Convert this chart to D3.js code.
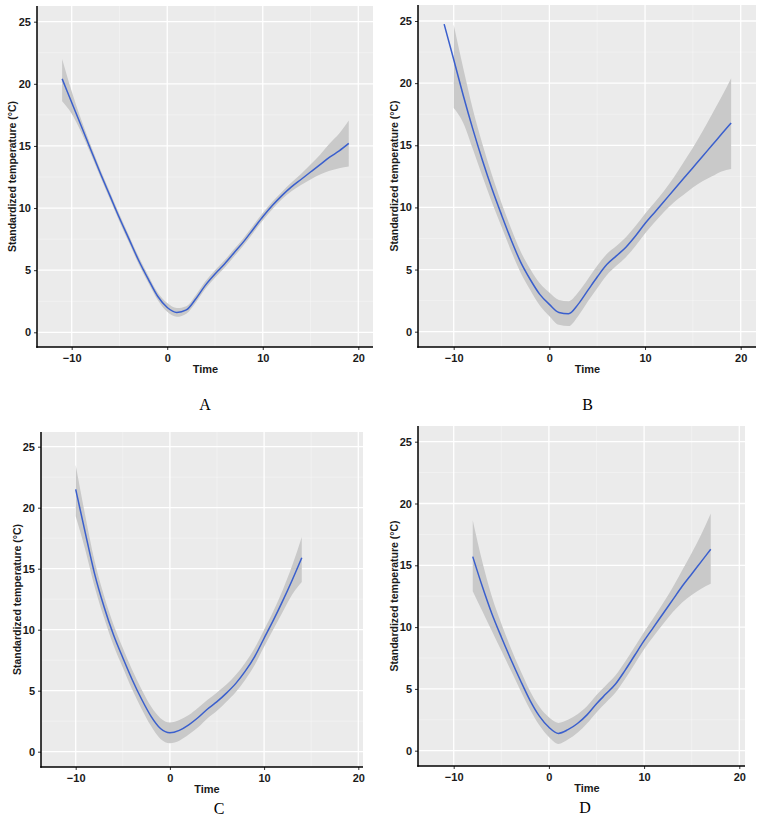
<!DOCTYPE html>
<html>
<head>
<meta charset="utf-8">
<script src="https://cdn.jsdelivr.net/npm/d3@7"></script>
<style>
  body { margin: 0; background: #fff; }
  svg { display: block; }
</style>
</head>
<body>
<script>
// smoothed standardized temperature

var timeA = d3.range(-11, 20);
var meanA = [20.4, 18.5, 16.6, 14.7, 12.8, 11.0, 9.2, 7.5, 5.8, 4.3, 2.9, 2.0, 1.6, 1.8, 2.7, 3.8, 4.7, 5.5, 6.4, 7.3, 8.3, 9.3, 10.2, 11.0, 11.7, 12.3, 12.9, 13.5, 14.1, 14.6, 15.2];
var lowA  = [18.6, 17.6, 16.1, 14.35, 12.5, 10.7, 8.9, 7.2, 5.5, 4.0, 2.6, 1.65, 1.25, 1.5, 2.4, 3.5, 4.4, 5.2, 6.1, 7.0, 8.0, 9.0, 9.9, 10.7, 11.35, 11.85, 12.3, 12.7, 13.0, 13.2, 13.35];
var highA = [22.0, 19.4, 17.1, 15.05, 13.1, 11.3, 9.5, 7.8, 6.1, 4.6, 3.2, 2.35, 1.95, 2.1, 3.0, 4.1, 5.0, 5.8, 6.7, 7.6, 8.6, 9.6, 10.5, 11.3, 12.05, 12.75, 13.5, 14.3, 15.2, 16.0, 17.05];

var timeB = d3.range(-11, 20);
var meanB = [24.75, 21.9, 19.0, 16.3, 13.8, 11.5, 9.4, 7.4, 5.6, 4.2, 3.0, 2.2, 1.55, 1.45, 2.2, 3.3, 4.4, 5.4, 6.1, 6.8, 7.7, 8.7, 9.6, 10.5, 11.4, 12.3, 13.2, 14.1, 15.0, 15.9, 16.8];
var lowB  = [null, 18.0, 16.8, 14.7, 12.5, 10.4, 8.45, 6.5, 4.75, 3.35, 2.1, 1.25, 0.55, 0.45, 1.25, 2.4, 3.5, 4.55, 5.3, 6.0, 6.9, 7.9, 8.8, 9.65, 10.4, 11.0, 11.6, 12.1, 12.5, 12.9, 13.1];
var highB = [null, 24.7, 21.2, 17.9, 15.1, 12.6, 10.35, 8.3, 6.45, 5.05, 3.9, 3.15, 2.55, 2.45, 3.15, 4.2, 5.3, 6.25, 6.9, 7.6, 8.5, 9.5, 10.4, 11.35, 12.4, 13.6, 14.8, 16.1, 17.5, 18.9, 20.4];

var timeC = d3.range(-10, 15);
var meanC = [21.5, 18.0, 14.6, 11.9, 9.6, 7.7, 5.9, 4.3, 2.9, 1.9, 1.55, 1.75, 2.2, 2.8, 3.5, 4.1, 4.8, 5.6, 6.6, 7.8, 9.3, 10.8, 12.4, 14.1, 15.9];
var lowC  = [19.3, 16.6, 13.55, 11.0, 8.75, 6.9, 5.1, 3.5, 2.1, 1.05, 0.7, 0.9, 1.4, 2.0, 2.75, 3.35, 4.1, 4.9, 5.9, 7.1, 8.6, 10.05, 11.5, 12.9, 13.9];
var highC = [23.5, 19.4, 15.65, 12.8, 10.45, 8.5, 6.7, 5.1, 3.7, 2.75, 2.4, 2.6, 3.0, 3.6, 4.25, 4.85, 5.5, 6.3, 7.3, 8.5, 10.0, 11.55, 13.3, 15.3, 17.6];

var timeD = d3.range(-8, 18);
var meanD = [15.7, 13.3, 11.1, 9.2, 7.4, 5.7, 4.1, 2.8, 1.9, 1.4, 1.7, 2.2, 2.9, 3.8, 4.6, 5.4, 6.5, 7.7, 8.9, 10.0, 11.1, 12.2, 13.3, 14.3, 15.3, 16.3];
var lowD  = [12.9, 11.3, 9.7, 8.1, 6.5, 4.9, 3.35, 2.05, 1.1, 0.55, 0.9, 1.45, 2.2, 3.1, 3.9, 4.7, 5.8, 7.0, 8.2, 9.25, 10.25, 11.2, 12.0, 12.6, 13.1, 13.5];
var highD = [18.65, 15.3, 12.5, 10.3, 8.3, 6.5, 4.85, 3.55, 2.7, 2.25, 2.5, 2.95, 3.6, 4.5, 5.3, 6.1, 7.2, 8.4, 9.6, 10.75, 11.95, 13.2, 14.6, 16.0, 17.5, 19.2];

var xTicks = [-10, 0, 10, 20];
var xMinor = [-5, 5, 15];
var yTicks = [0, 5, 10, 15, 20, 25];
var yMinor = [2.5, 7.5, 12.5, 17.5, 22.5];

var yTitle = "Standardized temperature (\u00B0C)";
var xTitle = "Time";

var panels = [
  { label: "A", time: timeA, mean: meanA, low: lowA, high: highA,
    box: { left: 37, right: 373, top: 6, bottom: 347 },
    xr: [71.7, 358.3], yr: [332.3, 21.7], ytx: 12.5, tx: 205.5, lx: 205, ly: 410 },
  { label: "B", time: timeB, mean: meanB, low: lowB, high: highB,
    box: { left: 418, right: 756, top: 5, bottom: 347 },
    xr: [453.7, 740.7], yr: [331.7, 21], ytx: 394, tx: 587.5, lx: 587.5, ly: 410 },
  { label: "C", time: timeC, mean: meanC, low: lowC, high: highC,
    box: { left: 41, right: 363, top: 432, bottom: 767 },
    xr: [75.7, 358.3], yr: [751.7, 446.7], ytx: 17, tx: 207, lx: 219, ly: 814 },
  { label: "D", time: timeD, mean: meanD, low: lowD, high: highD,
    box: { left: 418, right: 745, top: 426, bottom: 766 },
    xr: [453.7, 739.3], yr: [750.7, 441.7], ytx: 394, tx: 587, lx: 585, ly: 813 }
];

var svg = d3.select("body")
  .append("svg")
  .attr("width", 764)
  .attr("height", 818);

var sans = "'Liberation Sans', Arial, Helvetica, sans-serif";

panels.forEach(function(p) {
  var b = p.box;
  var x = d3.scaleLinear().domain([-10, 20]).range(p.xr);
  var y = d3.scaleLinear().domain([0, 25]).range(p.yr);

  var g = svg.append("g");

  // panel background
  g.append("rect")
    .attr("x", b.left).attr("y", b.top)
    .attr("width", b.right - b.left).attr("height", b.bottom - b.top)
    .attr("fill", "#ebebeb");

  // minor grid
  g.selectAll(".mx").data(xMinor).enter().append("line")
    .attr("x1", d => x(d)).attr("x2", d => x(d))
    .attr("y1", b.top).attr("y2", b.bottom)
    .attr("stroke", "#fff").attr("stroke-opacity", 0.55).attr("stroke-width", 0.6);
  g.selectAll(".my").data(yMinor).enter().append("line")
    .attr("x1", b.left).attr("x2", b.right)
    .attr("y1", d => y(d)).attr("y2", d => y(d))
    .attr("stroke", "#fff").attr("stroke-opacity", 0.55).attr("stroke-width", 0.6);

  // major grid
  g.selectAll(".gx").data(xTicks).enter().append("line")
    .attr("x1", d => x(d)).attr("x2", d => x(d))
    .attr("y1", b.top).attr("y2", b.bottom)
    .attr("stroke", "#fff").attr("stroke-width", 1.3);
  g.selectAll(".gy").data(yTicks).enter().append("line")
    .attr("x1", b.left).attr("x2", b.right)
    .attr("y1", d => y(d)).attr("y2", d => y(d))
    .attr("stroke", "#fff").attr("stroke-width", 1.3);

  var rows = p.time.map(function(t, i) {
    return { t: t, m: p.mean[i], lo: p.low[i], hi: p.high[i] };
  });

  // confidence ribbon
  var area = d3.area()
    .defined(d => d.lo != null && d.hi != null)
    .x(d => x(d.t))
    .y0(d => y(d.lo))
    .y1(d => y(d.hi))
    .curve(d3.curveMonotoneX);
  g.append("path")
    .datum(rows.filter(d => d.lo != null))
    .attr("d", area)
    .attr("fill", "#c9c9c9");

  // fitted line
  var line = d3.line()
    .x(d => x(d.t))
    .y(d => y(d.m))
    .curve(d3.curveMonotoneX);
  g.append("path")
    .datum(rows)
    .attr("d", line)
    .attr("fill", "none")
    .attr("stroke", "#3a5fcd")
    .attr("stroke-width", 1.5);

  // axes
  var ax = g.append("g")
    .attr("transform", "translate(0," + b.bottom + ")")
    .call(d3.axisBottom(x).tickValues(xTicks).tickSize(3).tickPadding(4).tickFormat(d3.format("d")));
  var ay = g.append("g")
    .attr("transform", "translate(" + b.left + ",0)")
    .call(d3.axisLeft(y).tickValues(yTicks).tickSize(3).tickPadding(3).tickFormat(d3.format("d")));
  [ax, ay].forEach(function(a) {
    a.select(".domain").remove();
    a.selectAll(".tick line").attr("stroke", "#333");
    a.selectAll(".tick text")
      .attr("fill", "#1a1a1a")
      .style("font-family", sans)
      .style("font-weight", "bold")
      .style("font-size", "11px");
  });

  // axis lines
  g.append("line")
    .attr("x1", b.left).attr("x2", b.left)
    .attr("y1", b.top).attr("y2", b.bottom + 0.75)
    .attr("stroke", "#000").attr("stroke-width", 1.5);
  g.append("line")
    .attr("x1", b.left - 0.75).attr("x2", b.right)
    .attr("y1", b.bottom).attr("y2", b.bottom)
    .attr("stroke", "#000").attr("stroke-width", 1.5);

  // titles
  g.append("text")
    .attr("x", p.tx).attr("y", b.bottom + 25.5)
    .attr("text-anchor", "middle")
    .style("font-family", sans).style("font-weight", "bold").style("font-size", "11px")
    .attr("fill", "#1a1a1a")
    .text(xTitle);

  g.append("text")
    .attr("transform", "translate(" + p.ytx + "," + ((b.top + b.bottom) / 2) + ") rotate(-90)")
    .attr("dy", "0.35em")
    .attr("text-anchor", "middle")
    .style("font-family", sans).style("font-weight", "bold").style("font-size", "10.5px")
    .attr("fill", "#1a1a1a")
    .text(yTitle);

  g.append("text")
    .attr("x", p.lx).attr("y", p.ly)
    .attr("text-anchor", "middle")
    .style("font-family", "'Liberation Serif', 'Times New Roman', serif")
    .style("font-size", "16px")
    .attr("fill", "#000")
    .text(p.label);
});
</script>
</body>
</html>
